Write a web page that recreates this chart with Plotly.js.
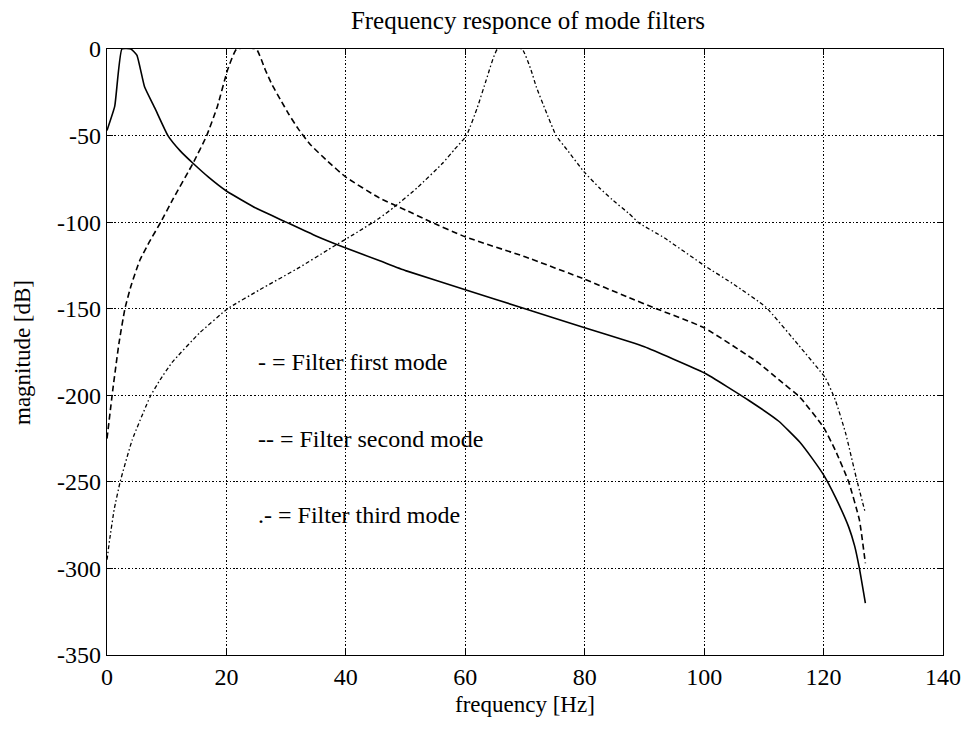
<!DOCTYPE html>
<html>
<head>
<meta charset="utf-8">
<script src="https://cdn.plot.ly/plotly-3.0.1.min.js"></script>
<style>body{margin:0;background:#fff;} #chart{width:966px;height:740px;}</style>
</head>
<body>
<div id="chart"></div>
<script>
const firstX = [0, 1.3, 2.5, 4, 5, 6.3, 8, 10.2, 12.3, 14.4, 17, 20, 25, 30, 35, 40, 45.8, 50, 60, 70, 80, 87.4, 90, 100, 107.5, 112.5, 116, 118, 120, 122, 124.2, 125.2, 126, 127];
const firstY = [-47, -33, 0, 0, -3.5, -22, -34, -50, -59, -66, -74, -82, -92, -100, -108, -115, -122.5, -128, -139, -150, -161, -169, -172, -187, -203, -215, -227, -236, -246, -259, -276, -287, -300, -320];

const secondX = [0, 1, 2, 3, 4, 5.5, 7, 9, 11, 14.4, 16.7, 18.5, 20.2, 21.7, 25, 26.5, 27.7, 29, 30.5, 32, 34, 37, 40, 45.6, 50, 54, 60, 70, 80, 87, 92, 100, 109, 112.5, 116, 120, 122, 124.2, 126, 127];
const secondY = [-225, -196, -170, -150, -137, -122, -112, -100, -87, -66, -50, -33, -12, 0, 0, -12, -21, -29, -38, -46, -55, -65, -74, -86, -93, -99.5, -108.5, -120, -133, -143, -150, -161, -181, -191, -201, -218.5, -232, -250, -272, -297];

const thirdX = [0, 0.5, 1.2, 2.2, 4.2, 7.2, 8.9, 10.9, 15.5, 20.2, 25.6, 32.3, 37, 42.3, 45.6, 48.1, 52, 56.2, 58.2, 60.2, 62, 63.5, 65.4, 69.5, 71, 71.9, 73.5, 75.2, 77, 79.9, 82.4, 84.6, 87.4, 89.1, 93.3, 100, 105, 110.3, 115.8, 120.3, 122, 123.7, 125.5, 127];
const thirdY = [-295, -282, -266, -250, -226, -201, -191, -181, -164, -150, -139, -126, -116, -105, -97.7, -91.3, -80, -66, -58, -50, -34, -18, 0, 0, -12, -22, -36, -50, -58, -71, -80, -87, -95, -100.5, -109, -125, -136, -149, -171, -190, -203, -222, -248, -268];

const xTicks = [0, 20, 40, 60, 80, 100, 120, 140];
const yTicks = [0, -50, -100, -150, -200, -250, -300, -350];

const legendTexts = ['- = Filter first mode', '-- = Filter second mode', '.- = Filter third mode'];
const legendY = [-181, -225, -269];

const font = 'Liberation Serif, Times New Roman, serif';

const traces = [
  {x: firstX, y: firstY, mode: 'lines', line: {color: '#000', width: 1.6, shape: 'spline', smoothing: 0.4}, hoverinfo: 'skip'},
  {x: secondX, y: secondY, mode: 'lines', line: {color: '#000', width: 1.6, dash: '6px,3.5px', shape: 'spline', smoothing: 0.4}, hoverinfo: 'skip'},
  {x: thirdX, y: thirdY, mode: 'lines', line: {color: '#000', width: 1.3, dash: '4px,2.5px,1.5px,2.5px', shape: 'spline', smoothing: 0.4}, hoverinfo: 'skip'}
];

const annotations = legendTexts.map((t, i) => ({
  x: 25, y: legendY[i], xref: 'x', yref: 'y', text: t, showarrow: false,
  xanchor: 'left', yanchor: 'middle', font: {family: font, size: 24, color: '#000'}
}));
annotations.push({
  x: 0.5, y: -0.0825, xref: 'paper', yref: 'paper', text: 'frequency [Hz]', showarrow: false,
  xanchor: 'center', yanchor: 'middle', font: {family: font, size: 23, color: '#000'}
});
annotations.push({
  x: -0.1017, y: 0.5, xref: 'paper', yref: 'paper', text: 'magnitude [dB]', showarrow: false, textangle: -90,
  xanchor: 'center', yanchor: 'middle', font: {family: font, size: 23, color: '#000'}
});

const axisCommon = {
  showline: true, linecolor: '#000', linewidth: 1.2, mirror: 'ticks',
  ticks: 'inside', ticklen: 6, tickcolor: '#000',
  showgrid: true, gridcolor: '#000', gridwidth: 1, griddash: '1.5px,2px',
  zeroline: false, tickfont: {family: font, size: 24, color: '#000'}
};

const layout = {
  width: 966, height: 740,
  margin: {l: 107, r: 23, t: 49, b: 85},
  paper_bgcolor: '#fff', plot_bgcolor: '#fff',
  showlegend: false,
  title: {text: 'Frequency responce of mode filters', font: {family: font, size: 25, color: '#000'}, x: 0.5465, xanchor: 'center', y: 0.972, yanchor: 'middle'},
  xaxis: Object.assign({}, axisCommon, {range: [0, 140], tickvals: xTicks, ticktext: xTicks.map(String)}),
  yaxis: Object.assign({}, axisCommon, {range: [-350, 0], tickvals: yTicks, ticktext: yTicks.map(String)}),
  annotations: annotations
};

Plotly.newPlot('chart', traces, layout, {displayModeBar: false, staticPlot: true});
</script>
</body>
</html>
